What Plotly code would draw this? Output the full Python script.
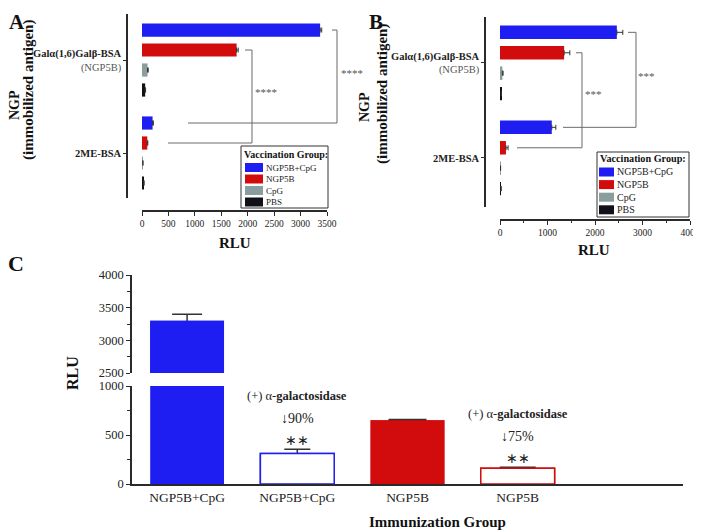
import plotly.graph_objects as go

# window is 701x532; the page body has an 8px default margin
WIN_W, WIN_H = 701, 532
OFF = 8
W, H = WIN_W - OFF, WIN_H - OFF
FONT = "Liberation Serif, Times New Roman, serif"

# ---------------- data ----------------
antigens = ["Galα(1,6)Galβ-BSA", "2ME-BSA"]
antigen_notes = ["(NGP5B)", ""]
vacc_groups = ["NGP5B+CpG", "NGP5B", "CpG", "PBS"]

# Panel A (values for [Galα(1,6)Galβ-BSA, 2ME-BSA])
a_ngp5b_cpg = [3370, 200]
a_ngp5b = [1790, 100]
a_cpg = [105, 15]
a_pbs = [60, 35]
a_ngp5b_cpg_err = [30, 15]
a_ngp5b_err = [30, 10]
a_cpg_err = [12, 4]
a_pbs_err = [8, 4]
a_ticks = [0, 500, 1000, 1500, 2000, 2500, 3000, 3500]
a_sig = "****"

# Panel B
b_ngp5b_cpg = [2460, 1090]
b_ngp5b = [1350, 125]
b_cpg = [50, 10]
b_pbs = [25, 20]
b_ngp5b_cpg_err = [125, 85]
b_ngp5b_err = [120, 45]
b_cpg_err = [15, 3]
b_pbs_err = [5, 5]
b_ticks = [0, 1000, 2000, 3000, 4000]
b_sig = "***"

# Panel C
c_groups = ["NGP5B+CpG", "NGP5B+CpG", "NGP5B", "NGP5B"]
c_values = [3300, 310, 650, 160]
c_errors = [100, 45, 8, 12]
c_treated = [False, True, False, True]
c_reduction = ["", "↓90%", "", "↓75%"]
c_sig = ["", "∗∗", "", "∗∗"]
c_low_ticks = [0, 500, 1000]
c_high_ticks = [2500, 3000, 3500, 4000]

# ---------------- style ----------------
BLUE = "#1e1ef2"
RED = "#d20c0c"
GRAY = "#8a9e9e"
BLACK = "#111118"
group_colors = [BLUE, RED, GRAY, BLACK]
c_color_of = {"NGP5B+CpG": BLUE, "NGP5B": RED}
AXIS = "#2a2a2a"
ERR = "#333333"
BRK = "#6a6a6a"
BARGAP = 0.14
BARGROUPGAP = 0.34
slot = (1 - BARGAP) / len(vacc_groups)


def pxx(p):
    return (p - OFF) / W


def pxy(p):
    return 1 - (p - OFF) / H


def bar_pos(cat, k):
    return cat + (k - (len(vacc_groups) - 1) / 2) * slot


fig = go.Figure()

# ---------------- panels A and B (horizontal grouped bars) ----------------
panels = [
    dict(xa="x", ya="y", series=[a_ngp5b_cpg, a_ngp5b, a_cpg, a_pbs],
         errs=[a_ngp5b_cpg_err, a_ngp5b_err, a_cpg_err, a_pbs_err]),
    dict(xa="x2", ya="y2", series=[b_ngp5b_cpg, b_ngp5b, b_cpg, b_pbs],
         errs=[b_ngp5b_cpg_err, b_ngp5b_err, b_cpg_err, b_pbs_err]),
]
cats = list(range(len(antigens)))
for p in panels:
    for k, g in enumerate(vacc_groups):
        fig.add_trace(go.Bar(
            y=cats, x=p["series"][k], orientation="h", name=g,
            xaxis=p["xa"], yaxis=p["ya"],
            marker=dict(color=group_colors[k], line=dict(width=0)),
            error_x=dict(type="data", array=p["errs"][k], arrayminus=[0] * len(cats),
                         symmetric=False, color=ERR, thickness=1, width=2.5),
            showlegend=False,
        ))

# ---------------- panel C ----------------
for i, (g, v, e, t) in enumerate(zip(c_groups, c_values, c_errors, c_treated)):
    col = c_color_of[g]
    fill = "white" if t else col
    lw = 1.5 if t else 0
    cap = [15, 13, 19, 18][i]
    axes = ["y3", "y4"] if v > c_low_ticks[-1] else ["y3"]
    for ya in axes:
        show_err = not (ya == "y3" and v > c_low_ticks[-1])
        # error bar trace (its lower "shoe" is hidden by the cover bar drawn on top)
        if show_err:
            fig.add_trace(go.Bar(
                x=[i], y=[v], xaxis="x3", yaxis=ya, width=0.67, offsetgroup="c",
                marker=dict(color=fill, line=dict(color=col, width=lw)),
                error_y=dict(type="data", array=[e], symmetric=True, color=ERR,
                             thickness=1.5, width=cap),
                showlegend=False, name=g,
            ))
        fig.add_trace(go.Bar(
            x=[i], y=[v], xaxis="x3", yaxis=ya, width=0.67, offsetgroup="c",
            marker=dict(color=fill, line=dict(color=col, width=lw)),
            showlegend=False, name=g,
        ))

# ---------------- axes ----------------
tick_font = dict(family=FONT, size=9.5, color="#222")
common = dict(showline=True, linecolor=AXIS, linewidth=1.5, ticks="outside",
              tickcolor=AXIS, tickwidth=1.2, showgrid=False, zeroline=False,
              automargin=False)

a_ticktext = [
    f"<b>{antigens[0]}</b><br><span style='color:#555'>{antigen_notes[0]}</span>",
    f"<b>{antigens[1]}</b>",
]

fig.update_layout(
    width=W, height=H, margin=dict(l=0, r=0, t=0, b=0, autoexpand=False),
    paper_bgcolor="white", plot_bgcolor="white",
    barmode="group", bargap=BARGAP, bargroupgap=BARGROUPGAP,
    showlegend=False, font=dict(family=FONT, color="#222"),
    xaxis=dict(domain=[pxx(142), pxx(327)], range=[0, 3500], anchor="free",
               position=pxy(211), tickvals=a_ticks, ticklen=4, tickfont=tick_font, **common),
    yaxis=dict(domain=[pxy(198), pxy(14)], range=[1.484, -0.495], anchor="free",
               position=pxx(127), tickvals=cats, ticktext=a_ticktext, ticklen=3,
               tickfont=dict(family=FONT, size=10.5, color="#222"), **common),
    xaxis2=dict(domain=[pxx(500), pxx(690)], range=[0, 4000], anchor="free",
                position=pxy(220), tickmode="linear", tick0=0, dtick=1000, ticklen=4,
                minor=dict(ticks="outside", dtick=500, tick0=0, ticklen=2.5, tickcolor=AXIS),
                tickfont=tick_font, **common),
    yaxis2=dict(domain=[pxy(207), pxy(17)], range=[1.516, -0.484], anchor="free",
                position=pxx(485), tickvals=cats, ticktext=a_ticktext, ticklen=3,
                tickfont=dict(family=FONT, size=10.5, color="#222"), **common),
    xaxis3=dict(domain=[pxx(132), pxx(683)], range=[-0.5, 4.5], anchor="y3",
                tickvals=list(range(len(c_groups))), ticktext=c_groups,
                showline=True, linecolor=AXIS, linewidth=1.5, ticks="",
                showgrid=False, zeroline=False, automargin=False,
                tickfont=dict(family=FONT, size=13.5, color="#222")),
    yaxis3=dict(domain=[pxy(484), pxy(386)], range=[0, 1000], anchor="x3",
                tickvals=c_low_ticks, ticklen=4,
                minor=dict(ticks="outside", dtick=250, tick0=0, ticklen=3, tickcolor=AXIS),
                tickfont=dict(family=FONT, size=12.5, color="#222"), **common),
    yaxis4=dict(domain=[pxy(373), pxy(275)], range=[2500, 4000], anchor="x3",
                tickvals=c_high_ticks, ticklen=4,
                minor=dict(ticks="outside", dtick=250, tick0=2500, ticklen=3, tickcolor=AXIS),
                tickfont=dict(family=FONT, size=12.5, color="#222"), **common),
)

# ---------------- significance brackets (A, B) ----------------
def bracket(xa, ya, xmax, k, x_top, x_vert, x_bot, label, lab_x, lab_y):
    xd = xa + " domain"
    y_top = bar_pos(0, k)
    y_bot = bar_pos(1, k)
    ln = dict(color=BRK, width=1)
    fig.add_shape(type="line", xref=xd, yref=ya, x0=x_top / xmax, x1=x_vert / xmax,
                  y0=y_top, y1=y_top, line=ln)
    fig.add_shape(type="line", xref=xd, yref=ya, x0=x_vert / xmax, x1=x_vert / xmax,
                  y0=y_top, y1=y_bot, line=ln)
    fig.add_shape(type="line", xref=xd, yref=ya, x0=x_bot / xmax, x1=x_vert / xmax,
                  y0=y_bot, y1=y_bot, line=ln)
    fig.add_annotation(xref=xd, yref=ya, x=lab_x / xmax, y=lab_y, text=label,
                       showarrow=False, xanchor="center", yanchor="middle",
                       font=dict(family=FONT, size=11, color="#555"))

bracket("x", "y", 3500, 0, 3595, 3689, 870, a_sig, 3975, 0.14)
bracket("x", "y", 3500, 1, 1949, 2081, 492, a_sig, 2346, 0.345)
bracket("x2", "y2", 4000, 0, 2695, 2863, 1326, b_sig, 3074, 0.137)
bracket("x2", "y2", 4000, 1, 1600, 1726, 358, b_sig, 1958, 0.326)

# ---------------- manual legends ----------------
def legend_box(x0, y0, x1, y1, title_y, row0, step, sw_x, sw_w, sw_h, fs, tfs):
    fig.add_shape(type="rect", xref="paper", yref="paper", x0=pxx(x0), x1=pxx(x1),
                  y0=pxy(y1), y1=pxy(y0), line=dict(color="#333", width=1),
                  fillcolor="white", layer="above")
    fig.add_annotation(xref="paper", yref="paper", x=pxx(x0 + 1), y=pxy(title_y),
                       text="<b>Vaccination Group:</b>", showarrow=False,
                       xanchor="left", yanchor="middle",
                       font=dict(family=FONT, size=tfs, color="#111"))
    for k, g in enumerate(vacc_groups):
        yc = row0 + k * step
        fig.add_shape(type="rect", xref="paper", yref="paper", x0=pxx(sw_x),
                      x1=pxx(sw_x + sw_w), y0=pxy(yc + sw_h / 2), y1=pxy(yc - sw_h / 2),
                      line=dict(width=0), fillcolor=group_colors[k], layer="above")
        fig.add_annotation(xref="paper", yref="paper", x=pxx(sw_x + sw_w + 1), y=pxy(yc),
                           text=g, showarrow=False, xanchor="left", yanchor="middle",
                           font=dict(family=FONT, size=fs, color="#222"))

legend_box(241, 146, 328, 208, 154.5, 167.5, 11.5, 245, 18, 9, 9, 10)
legend_box(597, 152, 689, 217, 158, 172, 12.6, 599, 15, 9, 10, 10.2)

# ---------------- panel C annotations ----------------
for i, (v, e, t) in enumerate(zip(c_values, c_errors, c_treated)):
    if not t:
        continue
    top = v + e
    for txt_, shift, fs in [(c_sig[i], 9, 14),
                            (c_reduction[i], 31, 14),
                            ("(+) α-<b>galactosidase</b>", 53, 12.5)]:
        fig.add_annotation(xref="x3", yref="y3", x=i, y=top, yshift=shift, text=txt_,
                           showarrow=False, xanchor="center", yanchor="middle",
                           font=dict(family=FONT, size=fs, color="#222"))

# ---------------- titles & panel letters ----------------
def txt(x, y, s, size, angle=0, bold=True, color="#111", yanchor="middle"):
    fig.add_annotation(xref="paper", yref="paper", x=pxx(x), y=pxy(y),
                       text=f"<b>{s}</b>" if bold else s, showarrow=False,
                       xanchor="center", yanchor=yanchor, textangle=angle,
                       font=dict(family=FONT, size=size, color=color))

txt(17, 8, "A", 21, yanchor="top")
txt(376, 8, "B", 21, yanchor="top")
txt(16, 264, "C", 22)
txt(15, 105, "NGP", 14, -90)
txt(29, 90, "(immobilized antigen)", 15, -90)
txt(364, 107, "NGP", 14, -90)
txt(382, 94, "(immobilized antigen)", 15, -90)
txt(235, 243, "RLU", 15)
txt(594, 250, "RLU", 15)
txt(72, 373, "RLU", 16, -90)
txt(437, 522, "Immunization Group", 15)

fig.write_html("out.html")
